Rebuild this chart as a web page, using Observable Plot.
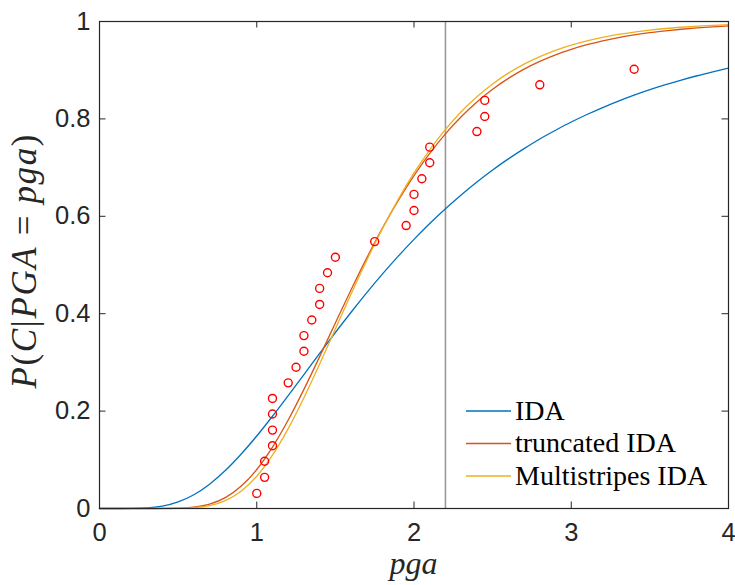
<!DOCTYPE html>
<html>
<head>
<meta charset="utf-8">
<script src="https://cdn.jsdelivr.net/npm/d3@7"></script>
<script src="https://cdn.jsdelivr.net/npm/@observablehq/plot@0.6"></script>
<style>
  html, body { margin: 0; padding: 0; background: #fff; }
  #chart { width: 735px; height: 585px; }
</style>
</head>
<body>
<div id="chart"></div>
<script>
// ---- data ----
const pgaGrid = [0.0,0.1,0.2,0.3,0.4,0.5,0.6,0.7,0.8,0.9,1.0,1.1,1.2,1.3,1.4,1.5,1.6,1.7,1.8,1.9,2.0,
                 2.1,2.2,2.3,2.4,2.5,2.6,2.7,2.8,2.9,3.0,3.1,3.2,3.3,3.4,3.5,3.6,3.7,3.8,3.9,4.0];
const idaP = [0,0,0.0001,0.0010,0.0047,0.0134,0.0282,0.0500,0.0779,0.1113,0.1489,
              0.1894,0.2319,0.2751,0.3186,0.3614,0.4030,0.4432,0.4817,0.5182,0.5526,
              0.5851,0.6156,0.6439,0.6704,0.6952,0.7179,0.7390,0.7588,0.7767,0.7936,
              0.8090,0.8233,0.8365,0.8486,0.8599,0.8702,0.8798,0.8886,0.8967,0.9044];
const truncatedP = [0,0,0,0,0.0001,0.0005,0.0026,0.0088,0.0222,0.0455,0.0801,
              0.1262,0.1817,0.2446,0.3119,0.3810,0.4493,0.5147,0.5763,0.6327,0.6837,
              0.7293,0.7694,0.8043,0.8347,0.8609,0.8832,0.9022,0.9181,0.9316,0.9428,
              0.9523,0.9603,0.9669,0.9725,0.9772,0.9809,0.9841,0.9868,0.9891,0.9909];
const multistripesP = [0,0,0,0,0,0.0002,0.0015,0.0057,0.0160,0.0353,0.0663,
              0.1097,0.1640,0.2275,0.2967,0.3687,0.4405,0.5099,0.5752,0.6350,0.6890,
              0.7366,0.7785,0.8148,0.8456,0.8718,0.8939,0.9125,0.9280,0.9409,0.9515,
              0.9603,0.9675,0.9734,0.9783,0.9823,0.9856,0.9882,0.9904,0.9922,0.9936];
const obsPga  = [1.0,1.05,1.05,1.1,1.1,1.1,1.1,1.2,1.25,1.3,1.3,1.35,1.4,1.4,1.45,1.5,
                 1.75,1.95,2.0,2.0,2.05,2.1,2.1,2.4,2.45,2.45,2.8,3.4];
const obsP    = [0.031,0.064,0.097,0.129,0.161,0.194,0.226,0.258,0.290,0.323,0.355,0.387,0.419,0.452,0.484,0.516,
                 0.548,0.581,0.612,0.645,0.677,0.710,0.742,0.774,0.805,0.838,0.870,0.902];
const refPga = [2.2];
const seriesNames = ["IDA", "truncated IDA", "Multistripes IDA"];
const seriesColors = ["#0072BD", "#D95319", "#EDB120"];
const xTicks = [0, 1, 2, 3, 4];
const yTicks = [0, 0.2, 0.4, 0.6, 0.8, 1];

// ---- build tables ----
const seriesValues = [idaP, truncatedP, multistripesP];
const curves = seriesNames.map((name, i) =>
  pgaGrid.map((x, j) => ({x, p: seriesValues[i][j], name})));
const obs = obsPga.map((x, i) => ({x, p: obsP[i]}));

const W = 735, H = 585;
const mL = 99, mR = 7, mT = 21, mB = 77;
const axisColor = "#262626";
const tickPx = 6.5;
const tx = tickPx / (W - mL - mR) * 4;   // tick length in x units
const ty = tickPx / (H - mT - mB) * 1;   // tick length in y units

const plot = Plot.plot({
  width: W, height: H,
  marginLeft: mL, marginRight: mR, marginTop: mT, marginBottom: mB,
  x: {domain: [0, 4]},
  y: {domain: [0, 1]},
  style: {fontFamily: "'Liberation Sans', Arial, Helvetica, sans-serif", background: "#fff", overflow: "visible"},
  marks: [
    Plot.ruleX(refPga, {y1: 0, y2: 1, stroke: "#9a9a9a", strokeWidth: 1.6}),
    ...curves.map((c, i) => Plot.line(c, {x: "x", y: "p", stroke: seriesColors[i], strokeWidth: 1.3, curve: "monotone-x"})),
    Plot.dot(obs, {x: "x", y: "p", r: 4, stroke: "#FF0000", strokeWidth: 1.4, fill: "none"}),
    // inward ticks on all four sides
    Plot.ruleX(xTicks, {y1: 0, y2: ty, stroke: axisColor, strokeWidth: 1}),
    Plot.ruleX(xTicks, {y1: 1 - ty, y2: 1, stroke: axisColor, strokeWidth: 1}),
    Plot.ruleY(yTicks, {x1: 0, x2: tx, stroke: axisColor, strokeWidth: 1}),
    Plot.ruleY(yTicks, {x1: 4 - tx, x2: 4, stroke: axisColor, strokeWidth: 1}),
    Plot.frame({stroke: axisColor, strokeWidth: 1.2}),
    Plot.axisX(xTicks, {tickSize: 0, tickPadding: 14, fontSize: 25.5, label: null, color: axisColor, tickFormat: d => String(d)}),
    Plot.axisY(yTicks, {tickSize: 0, tickPadding: 9, fontSize: 25.5, label: null, color: axisColor, tickFormat: d => String(d)})
  ]
});

document.getElementById("chart").appendChild(plot);

// ---- labels and legend (real text) ----
const svg = d3.select(plot);
const serif = "'Liberation Serif', 'Times New Roman', serif";

// x label
svg.append("text")
  .attr("x", (mL + W - mR) / 2).attr("y", 574)
  .attr("text-anchor", "middle")
  .attr("font-family", serif).attr("font-style", "italic")
  .attr("font-size", 32).attr("fill", axisColor)
  .text("pga");

// y label with mixed italics
const yl = svg.append("text")
  .attr("transform", `translate(36,${(mT + H - mB) / 2 - 3}) rotate(-90)`)
  .attr("text-anchor", "middle")
  .attr("font-family", serif).attr("font-size", 35).attr("fill", axisColor)
  .attr("textLength", 254).attr("lengthAdjust", "spacing");
const parts = [["P", true], ["(", false], ["C", true], ["|", false], ["PGA", true], [" = ", false], ["pga", true], [")", false]];
parts.forEach(([t, it]) => yl.append("tspan").attr("font-style", it ? "italic" : "normal").text(t));

// legend
const legX1 = 466, legX2 = 511, legText = 515;
const legRowsY = [411, 443.5, 476];
seriesNames.forEach((name, i) => {
  svg.append("line")
    .attr("x1", legX1).attr("x2", legX2)
    .attr("y1", legRowsY[i]).attr("y2", legRowsY[i])
    .attr("stroke", seriesColors[i]).attr("stroke-width", 1.3);
  svg.append("text")
    .attr("x", legText).attr("y", legRowsY[i] + 8.5)
    .attr("text-anchor", "start")
    .attr("font-family", serif).attr("font-size", 28).attr("fill", "#000")
    .text(name);
});
</script>
</body>
</html>
